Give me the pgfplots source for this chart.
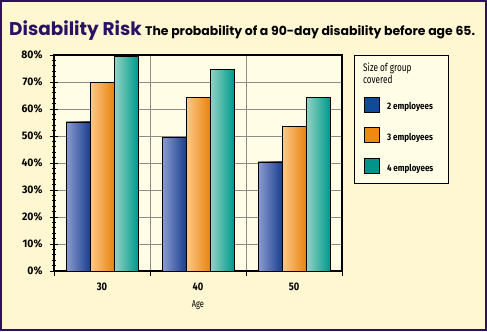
\documentclass[border=0pt]{standalone}
\usepackage{pgfplots}
\pgfplotsset{compat=1.18}
\usepackage{fontspec}
\setmainfont{Fira Sans}
\newfontfamily\titlefont{Poppins}
\newfontfamily\condfont[FakeStretch=0.85]{Fira Sans}
\newfontfamily\ylabfont[FakeStretch=0.95]{Fira Sans}
\newfontfamily\narrowfont[FakeStretch=0.75]{Fira Sans}
\definecolor{outerbg}{HTML}{FFF7D2}
\definecolor{plotbg}{HTML}{FFFDE6}
\definecolor{frame}{HTML}{2E0F63}
\definecolor{titlec}{HTML}{2A1262}
\definecolor{gridc}{HTML}{8C8C8C}
\definecolor{blueL}{HTML}{8C9BD0}
\definecolor{blueD}{HTML}{1A408E}
\definecolor{blueS}{HTML}{0F4B9A}
\definecolor{orangeL}{HTML}{FFC98A}
\definecolor{orangeD}{HTML}{E8840F}
\definecolor{orangeS}{HTML}{EE8A12}
\definecolor{tealL}{HTML}{94D4C4}
\definecolor{tealD}{HTML}{009A8C}
\definecolor{tealS}{HTML}{00948A}
\pgfplotsset{
  bluebar/.style={draw=black, line width=0.8bp, left color=blueL, right color=blueD, bar shift=-24bp,
    legend image code/.code={\draw[shade=false, fill=blueS, draw=black, line width=0.8bp] (0bp,-5bp) rectangle (15bp,10bp);}},
  orangebar/.style={draw=black, line width=0.8bp, left color=orangeL, right color=orangeD, bar shift=0bp,
    legend image code/.code={\draw[shade=false, fill=orangeS, draw=black, line width=0.8bp] (0bp,-5bp) rectangle (15bp,10bp);}},
  tealbar/.style={draw=black, line width=0.8bp, left color=tealL, right color=tealD, bar shift=24bp,
    legend image code/.code={\draw[shade=false, fill=tealS, draw=black, line width=0.8bp] (0bp,-5bp) rectangle (15bp,10bp);}},
}
\begin{document}
\begin{tikzpicture}[x=1bp,y=1bp]
\useasboundingbox (-54,-60) rectangle (433,271);
\fill[outerbg] (-54,-60) rectangle (433,271);
\draw[frame, line width=2bp] (-53,-59) rectangle (432,270);
\node[anchor=base west, inner sep=0pt, text=titlec, font=\titlefont\bfseries\fontsize{18.5}{22}\selectfont] at (-45,236) {Disability Risk};
\node[anchor=base west, inner sep=0pt, font=\titlefont\bfseries\fontsize{12.5}{15}\selectfont] at (91,235.5) {The probability of a 90-day disability before age 65.};
\draw[black, line width=1bp, fill=plotbg] (300,88) rectangle (394,216);
\node[anchor=base west, inner sep=0pt, align=left, font=\narrowfont\fontsize{11}{12.5}\selectfont] at (309,187.5) {Size of group\\covered};
\begin{axis}[
  at={(0,0)}, anchor=south west,
  width=288bp, height=216bp, scale only axis,
  axis background/.style={fill=plotbg},
  ybar=0pt, bar width=24bp,
  xmin=-0.5, xmax=2.5, ymin=0, ymax=80,
  xtick={0,1,2}, xticklabels={30,40,50},
  minor xtick={-0.5,0.5,1.5,2.5},
  major x tick style={draw=none},
  xminorgrids=true,
  ytick={0,10,...,80},
  yticklabel={\pgfmathprintnumber{\tick}\%},
  minor y tick num=4,
  ymajorgrids=true,
  grid style={gridc, line width=1bp},
  minor grid style={gridc, line width=1bp},
  xtick align=outside, ytick align=center,
  xtick pos=bottom, ytick pos=left,
  major tick length=9bp, minor tick length=4.5bp,
  tick style={black, line width=0.8bp},
  axis line style={black, line width=1.2bp},
  /pgf/number format/assume math mode=true,
  ticklabel style={font=\condfont\bfseries\fontsize{11}{12}\selectfont},
  yticklabel style={xshift=-3.5bp, font=\ylabfont\bfseries\fontsize{11}{12}\selectfont},
  xticklabel style={yshift=1bp},
  xlabel={Age},
  xlabel style={font=\narrowfont\fontsize{10}{11}\selectfont, yshift=-3bp},
  legend style={at={(1.0764,0.8079)}, anchor=north west, draw=none, fill=none, inner sep=0pt, row sep=15bp,
    column sep=7bp, nodes={inner sep=0pt},
    font=\condfont\bfseries\fontsize{9.5}{11}\selectfont},
  legend cell align=left,
]
\addplot[bluebar] coordinates {(0,55.2)};
\addlegendentry{2 employees}
\addplot[orangebar] coordinates {(0,69.9)};
\addlegendentry{3 employees}
\addplot[tealbar] coordinates {(0,79.3)};
\addlegendentry{4 employees}
\addplot[bluebar, forget plot] coordinates {(1,49.3)};
\addplot[orangebar, forget plot] coordinates {(1,64.4)};
\addplot[tealbar, forget plot] coordinates {(1,74.8)};
\addplot[bluebar, forget plot] coordinates {(2,40.4)};
\addplot[orangebar, forget plot] coordinates {(2,53.7)};
\addplot[tealbar, forget plot] coordinates {(2,64.4)};
\end{axis}
\end{tikzpicture}
\end{document}
